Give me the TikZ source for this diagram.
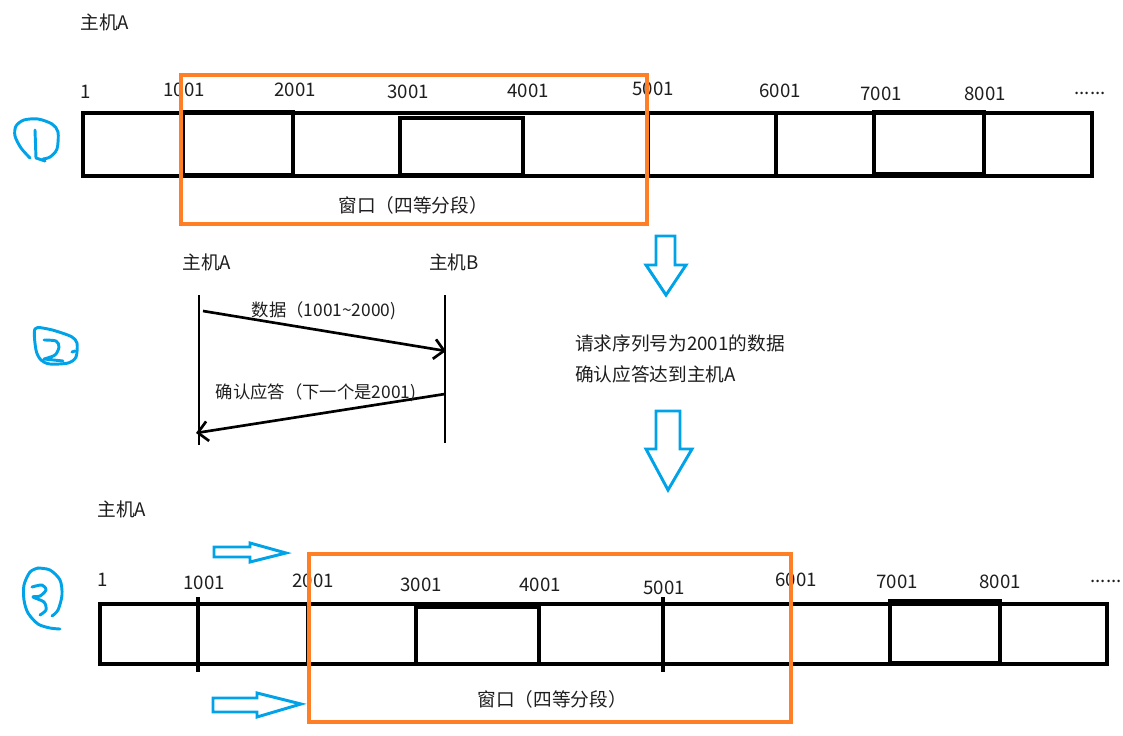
\documentclass[tikz,border=0pt]{standalone}
\usepackage{fontspec}
\setmainfont{Noto Sans CJK SC}
\usetikzlibrary{arrows.meta,positioning}
\definecolor{winorange}{HTML}{FF7F27}
\definecolor{penblue}{HTML}{00A2E8}
\definecolor{txt}{HTML}{1E1E1E}
\tikzset{
  lbl/.style={font=\fontsize{14pt}{16pt}\selectfont, inner sep=0pt, text=txt},
  msglbl/.style={lbl, font=\fontsize{13pt}{15pt}\selectfont},
  strip/.style={draw=black, line width=2.8pt},
  winbox/.style={draw=winorange, line width=2.3pt},
  hollow/.style={draw=penblue, line width=2.2pt, line join=miter},
  pen/.style={draw=penblue, line width=2.2pt, line cap=round, line join=round},
  life/.style={line width=2.2pt},
  msg/.style={-{Straight Barb[length=2.6mm,width=5.2mm]}, line width=2pt},
}

\begin{document}
\begin{tikzpicture}[x=0.75pt, y=-0.75pt]
    \useasboundingbox (0,0) rectangle (1123,735);

    % --- 1: sender window before the ack
    \node[lbl] (hostA1) at (105,22) {主机A};
    \draw[strip] (83,113) rectangle (1092,176);
    \draw[strip] (183,112) rectangle (293,175);
    \draw[strip] (400,118) rectangle (523,175);
    \draw[strip] (874,112) rectangle (984,174);
    \foreach \x in {648,776}{\draw[strip] (\x,113) -- (\x,176);}
    \foreach \x/\y/\t [count=\i] in {86/92/1, 184/90/1001, 295/90/2001, 408/92/3001, 528/91/4001, 653/89/5001, 780/91/6001, 881/94/7001, 985/94/8001}{
      \node[lbl] (seqa\i) at (\x,\y) {\t};
    }
    \node[lbl] (dotsa) at (1090,93) {......};
    \draw[winbox] (181,75) rectangle (647,224);
    \node[lbl] (win1) at (413,205) {窗口（四等分段）};

    % hand-drawn step marks
    \draw[pen] plot[smooth] coordinates {(30,158) (21,148) (15,136) (16,126) (24,120) (38,119) (52,124) (58,132) (57,149) (50,157) (43,159)};
    \draw[pen] (35,130) -- (36,158) -- (45,161);
    \draw[pen] plot[smooth cycle] coordinates {(35,329) (48,329) (62,333) (72,337) (77,343) (76,357) (68,363) (50,364) (41,360) (36,350)};
    \draw[pen] plot[smooth] coordinates {(44,340) (56,341) (59,347) (55,355) (44,359)} -- (63,361);
    \draw[pen] (72,352) -- (75,351);
    \draw[pen] plot[smooth] coordinates {(38,568) (30,572) (24,585) (24,600) (28,613) (38,624) (50,628) (60,629)};
    \draw[pen] plot[smooth] coordinates {(38,568) (50,570) (60,580) (62,595) (58,610) (52,616)};
    \draw[pen] plot[smooth] coordinates {(32,587) (42,585) (46,590) (40,596) (33,597) (44,602) (46,610) (40,615)};

    % --- 2: data and ack exchange
    \node[lbl] (seqA) at (207,262) {主机A};
    \node[lbl] (seqB) at (454,262) {主机B};
    \coordinate (aTop) at (199,295);
    \coordinate (aBot) at (199,445);
    \coordinate (bTop) at (445,295);
    \coordinate (bBot) at (445,443);
    \draw[life] (aTop) -- (aBot);
    \draw[life] (bTop) -- (bBot);
    \coordinate (dat0) at (203,311);
    \coordinate (dat1) at (446,351);
    \coordinate (ack0) at (445,394);
    \coordinate (ack1) at (196,433);
    \draw[msg] (dat0) -- (dat1);
    \draw[msg] (ack0) -- (ack1);
    \node[msglbl] (datlbl) at (324,311) {数据（1001\textasciitilde 2000)};
    \node[msglbl] (acklbl) at (316,393) {确认应答（下一个是2001)};

    \draw[hollow] (656,236) -- (675,236) -- (675,265) -- (686,265) -- (666,295) -- (646,265) -- (656,265) -- cycle;
    \node[lbl, anchor=west] (note1) at (575,343) {请求序列号为2001的数据};
    \node[lbl, anchor=west] (note2) at (575,374) {确认应答达到主机A};
    \draw[hollow] (656,411) -- (680,411) -- (680,449) -- (692,449) -- (668,490) -- (646,449) -- (656,449) -- cycle;

    % --- 3: window slid forward
    \node[lbl] (hostA3) at (122,509) {主机A};
    \draw[hollow] (214,547) -- (250,547) -- (250,543) -- (286,553) -- (250,562) -- (250,557) -- (214,557) -- cycle;
    \draw[strip] (100,604) rectangle (1107,664);
    \draw[strip] (416,607) rectangle (539,664);
    \draw[strip] (890,601) rectangle (1000,663);
    \foreach \x in {198,663}{\draw[strip] (\x,597) -- (\x,672);}
    \foreach \x in {308,791}{\draw[strip] (\x,604) -- (\x,664);}
    \foreach \x/\y/\t [count=\i] in {103/580/1, 204/583/1001, 313/581/2001, 421/585/3001, 540/585/4001, 664/588/5001, 796/580/6001, 897/582/7001, 1000/582/8001}{
      \node[lbl] (seqc\i) at (\x,\y) {\t};
    }
    \node[lbl] (dotsc) at (1106,581) {......};
    \draw[winbox] (309,554) rectangle (791,722);
    \node[lbl] (win3) at (552,699) {窗口（四等分段）};
    \draw[hollow] (213,698) -- (257,698) -- (257,693) -- (301,704) -- (257,717) -- (257,712) -- (213,712) -- cycle;
  \end{tikzpicture}
\end{document}
